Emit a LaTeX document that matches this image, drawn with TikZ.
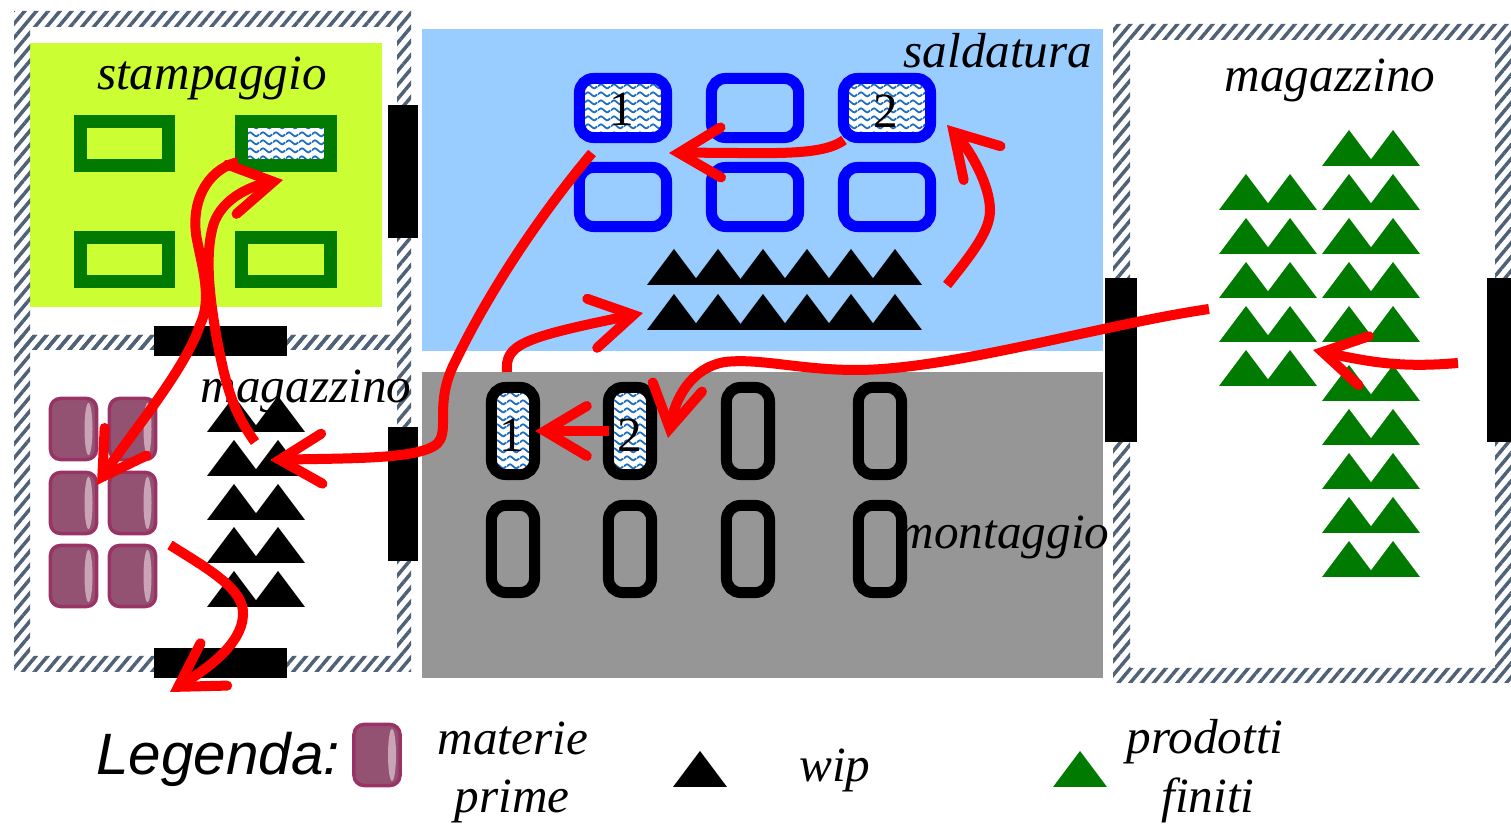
\documentclass[tikz,border=0pt]{standalone}
\usepackage{fontspec}
\setmainfont{Liberation Serif}
\setsansfont{Liberation Sans}
\usetikzlibrary{arrows.meta,patterns,patterns.meta}
\definecolor{limepanel}{HTML}{CCFF33}
\definecolor{bluepanel}{HTML}{99CCFF}
\definecolor{graypanel}{HTML}{969696}
\definecolor{forest}{HTML}{007A00}
\definecolor{plum}{HTML}{993366}
\definecolor{plumbody}{HTML}{945272}
\definecolor{plumend}{HTML}{C9A3B6}
\definecolor{slate}{HTML}{4F6177}
\definecolor{wavecol}{HTML}{1F6FC0}
\pgfdeclarepatternformonly{waves}{\pgfqpoint{0pt}{0pt}}{\pgfqpoint{3.7pt}{2.3pt}}{\pgfqpoint{3.7pt}{2.3pt}}{
\pgfsetlinewidth{.55pt}
\pgfpathmoveto{\pgfqpoint{0pt}{1.15pt}}
\pgfpathcurveto{\pgfqpoint{.9pt}{2pt}}{\pgfqpoint{.9pt}{2pt}}{\pgfqpoint{1.85pt}{1.15pt}}
\pgfpathcurveto{\pgfqpoint{2.8pt}{.3pt}}{\pgfqpoint{2.8pt}{.3pt}}{\pgfqpoint{3.7pt}{1.15pt}}
\pgfusepath{stroke}}
\tikzset{
hatchband/.style={even odd rule, pattern={Lines[angle=50,distance=.09cm,line width=.035cm]}, pattern color=slate},
door/.style={fill=black},
place/.style={font=\fontsize{14}{17}\selectfont\itshape, inner sep=0},
digit/.style={font=\fontsize{14}{17}\selectfont, inner sep=0},
loaded/.style={preaction={fill=white}, pattern=waves, pattern color=wavecol},
stmachine/.style={draw=forest, line width=.13cm, minimum width=.88cm, minimum height=.44cm, inner sep=0},
samachine/.style={draw=blue, line width=.11cm, minimum width=.87cm, minimum height=.59cm, inner sep=0, rounded corners=.14cm},
momachine/.style={draw=black, line width=.11cm, minimum width=.43cm, minimum height=.87cm, inner sep=0, rounded corners=.14cm},
rawmat/.style={draw=plum, fill=plumbody, line width=.035cm, minimum width=.46cm, minimum height=.61cm, inner sep=0, rounded corners=.1cm, path picture={\fill [plumend] ([xshift=.15cm]path picture bounding box.center) ellipse [x radius=.04cm, y radius=.26cm];}},
flow/.style={draw=red, line width=.1cm, -{Straight Barb[length=.42cm,width=.5cm,line cap=round]}},
tripair/.pic={\fill (-49,0) -- (-22,-36) -- (5,0) -- cycle (-5,0) -- (22,-36) -- (49,0) -- cycle;},
}
\begin{document}
\begin{tikzpicture}[x=.01cm, y=-.01cm]
\useasboundingbox (0,0) rectangle (1511,825);
\fill [limepanel] (30,43) rectangle (382,307);
\fill [bluepanel] (422,29) rectangle (1103,351);
\fill [graypanel] (422,372) rectangle (1103,678);
\path [hatchband] (14,11) rectangle (411,350) (30,27) rectangle (397,335);
\path [hatchband] (14,335) rectangle (411,672) (30,350) rectangle (397,656);
\path [hatchband] (1113,24) rectangle (1511,683) (1130,40) rectangle (1495,668);
\fill [door] (388,105) rectangle (418,238);
\fill [door] (154,326) rectangle (287,356);
\fill [door] (388,427) rectangle (418,561);
\fill [door] (154,648) rectangle (287,678);
\fill [door] (1105,278) rectangle (1137,442);
\fill [door] (1487,278) rectangle (1511,442);
\node [stmachine] (st1) at (124.5,143.5) {};
\node [stmachine, loaded] (st2) at (286,143.5) {};
\node [stmachine] (st3) at (124.5,259.5) {};
\node [stmachine] (st4) at (286,259.5) {};
\node [samachine, loaded] (sa1) at (623,108) {};
\node [samachine] (sa2) at (755,108) {};
\node [samachine, loaded] (sa3) at (887,108) {};
\node [samachine] (sa4) at (623,197) {};
\node [samachine] (sa5) at (755,197) {};
\node [samachine] (sa6) at (887,197) {};
\node [momachine, loaded] (mo1) at (513,431) {};
\node [momachine, loaded] (mo2) at (630,431) {};
\node [momachine] (mo3) at (748,431) {};
\node [momachine] (mo4) at (880,431) {};
\node [momachine] (mo5) at (513,549) {};
\node [momachine] (mo6) at (630,549) {};
\node [momachine] (mo7) at (748,549) {};
\node [momachine] (mo8) at (880,549) {};
\node [digit] (n1) at (622,109) {1};
\node [digit] (n2) at (886,111) {2};
\node [digit] (n3) at (512,435) {1};
\node [digit] (n4) at (630,435) {2};
\node [rawmat] (rm1) at (73.5,429) {};
\node [rawmat] (rm2) at (132.5,429) {};
\node [rawmat] (rm3) at (73.5,503) {};
\node [rawmat] (rm4) at (132.5,503) {};
\node [rawmat] (rm5) at (73.5,576) {};
\node [rawmat] (rm6) at (132.5,576) {};
\pic at (696,285) {tripair};
\pic at (785,285) {tripair};
\pic at (873,285) {tripair};
\pic at (696,330) {tripair};
\pic at (785,330) {tripair};
\pic at (873,330) {tripair};
\pic at (256,432) {tripair};
\pic at (256,476) {tripair};
\pic at (256,520) {tripair};
\pic at (256,563) {tripair};
\pic at (256,607) {tripair};
\pic [forest] at (1268,210) {tripair};
\pic [forest] at (1268,254) {tripair};
\pic [forest] at (1268,298) {tripair};
\pic [forest] at (1268,342) {tripair};
\pic [forest] at (1268,386) {tripair};
\pic [forest] at (1371,166) {tripair};
\pic [forest] at (1371,210) {tripair};
\pic [forest] at (1371,254) {tripair};
\pic [forest] at (1371,298) {tripair};
\pic [forest] at (1371,342) {tripair};
\pic [forest] at (1371,401) {tripair};
\pic [forest] at (1371,445) {tripair};
\pic [forest] at (1371,489) {tripair};
\pic [forest] at (1371,533) {tripair};
\pic [forest] at (1371,577) {tripair};
\node [place] (stampaggio) at (212,78) {stampaggio};
\node [place] (saldatura) at (998,51) {saldatura};
\node [place] (montaggio) at (1004,537) {montaggio};
\node [place] (magleft) at (306,391) {magazzino};
\node [place] (magright) at (1330,80) {magazzino};
\node [font=\fontsize{16.6}{20}\selectfont\sffamily\itshape, inner sep=0] (legenda) at (218,759) {Legenda:};
\node [rawmat] (rmkey) at (377,755) {};
\node [place] (materie) at (513,738) {materie};
\node [place] (prime) at (512,801) {prime};
\fill (673,787) -- (700,751) -- (727,787) -- cycle;
\node [place] (wip) at (835,770) {wip};
\fill [forest] (1053,787) -- (1080,751) -- (1107,787) -- cycle;
\node [place] (prodotti) at (1205,742) {prodotti};
\node [place] (finiti) at (1208,800) {finiti};
\coordinate (h0) at (255,442);
\coordinate (h1) at (283,180);
\coordinate (i0) at (238,162);
\coordinate (i1) at (97,485);
\coordinate (j0) at (170,545);
\coordinate (j1) at (170,692);
\coordinate (g0) at (592,153);
\coordinate (g1) at (270,460);
\coordinate (f0) at (844,140);
\coordinate (f1) at (669,153);
\coordinate (e0) at (947,285);
\coordinate (e1) at (947,125);
\coordinate (d0) at (507,372);
\coordinate (d1) at (643,313);
\coordinate (c0) at (609,431);
\coordinate (c1) at (535,431);
\coordinate (b0) at (1209,309);
\coordinate (b1) at (668,438);
\coordinate (a0) at (1458,363);
\coordinate (a1) at (1313,350);
\draw [flow] (a0) .. controls (1400,368) and (1370,362) .. (a1);
\draw [flow] (b0) .. controls (1100,325) and (950,370) .. (856,370) .. controls (800,370) and (760,358) .. (725,362) .. controls (690,368) and (675,400) .. (b1);
\draw [flow] (c0) -- (c1);
\draw [flow] (d0) .. controls (505,345) and (520,338) .. (d1);
\draw [flow] (e0) .. controls (975,250) and (990,230) .. (990,210) .. controls (990,185) and (970,150) .. (e1);
\draw [flow] (f0) .. controls (820,158) and (760,152) .. (f1);
\draw [flow] (g0) .. controls (540,215) and (490,290) .. (456,360) .. controls (435,400) and (448,425) .. (440,440) .. controls (430,460) and (350,458) .. (g1);
\draw [flow] (h0) .. controls (232,410) and (226,385) .. (217,340) .. controls (210,300) and (205,260) .. (212,230) .. controls (218,200) and (250,186) .. (h1);
\draw [flow] (i0) .. controls (205,170) and (190,205) .. (197,240) .. controls (203,270) and (212,300) .. (200,325) .. controls (185,370) and (130,435) .. (i1);
\draw [flow] (j0) .. controls (210,570) and (245,590) .. (243,615) .. controls (242,645) and (205,670) .. (j1);
\end{tikzpicture}
\end{document}
